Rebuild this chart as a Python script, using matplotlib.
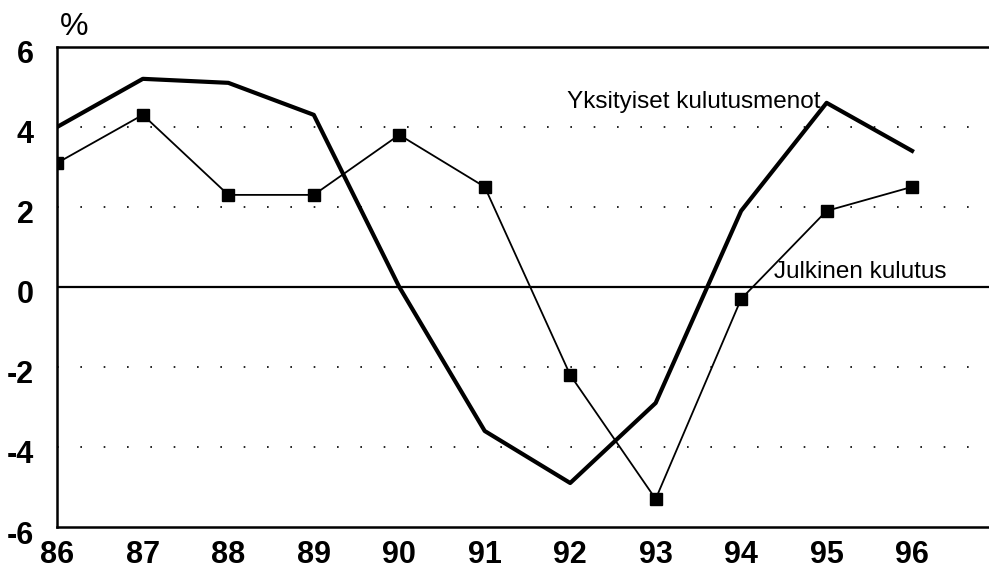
import matplotlib.pyplot as plt
import matplotlib.transforms as mtransforms
import numpy as np

plt.rcParams['font.family'] = ['Liberation Sans', 'DejaVu Sans']

years = [86, 87, 88, 89, 90, 91, 92, 93, 94, 95, 96]
yksityiset = [4.0, 5.2, 5.1, 4.3, 0.0, -3.6, -4.9, -2.9, 1.9, 4.6, 3.4]
julkinen = [3.1, 4.3, 2.3, 2.3, 3.8, 2.5, -2.2, -5.3, -0.3, 1.9, 2.5]
yticks = [-6, -4, -2, 0, 2, 4, 6]

fig = plt.figure(figsize=(9.89, 5.71), dpi=100)
ax = fig.add_axes([0.058, 0.077, 0.942, 0.841])

for y in [-4, -2, 2, 4]:
    ax.axhline(y, color='black', linewidth=1.2, linestyle=(0, (1, 13)), zorder=1)
ax.axhline(0, color='black', linewidth=1.6, zorder=1)

ax.plot(years, yksityiset, color='black', linewidth=3, zorder=3)
ax.plot(years, julkinen, color='black', linewidth=1.3, marker='s',
        markersize=8, zorder=3)

ax.text(94.93, 4.47, 'Yksityiset kulutusmenot', fontsize=17.5, ha='right', va='baseline')
ax.text(94.38, 0.22, 'Julkinen kulutus', fontsize=17.5, ha='left', va='baseline')

ax.set_xlim(86, 96.9)
ax.set_ylim(-6, 6)
ax.set_xticks(years)
ax.set_yticks(yticks)
ax.set_xticklabels([str(y) for y in years], fontsize=22, fontweight='bold')
ax.set_yticklabels([str(y) for y in yticks], fontsize=22, fontweight='bold')
ax.tick_params(length=0)
ax.tick_params(axis='y', pad=17)
ax.tick_params(axis='x', pad=9)

# y labels sit slightly below their gridlines in the original
shift = mtransforms.ScaledTranslation(0, -0.05, fig.dpi_scale_trans)
for lab in ax.get_yticklabels():
    lab.set_transform(lab.get_transform() + shift)

ax.spines['right'].set_visible(False)
for s in ['left', 'top', 'bottom']:
    ax.spines[s].set_linewidth(1.8)

fig.text(0.075, 0.952, '%', fontsize=23, ha='center', va='center')

fig.savefig('out.png', dpi=100)
